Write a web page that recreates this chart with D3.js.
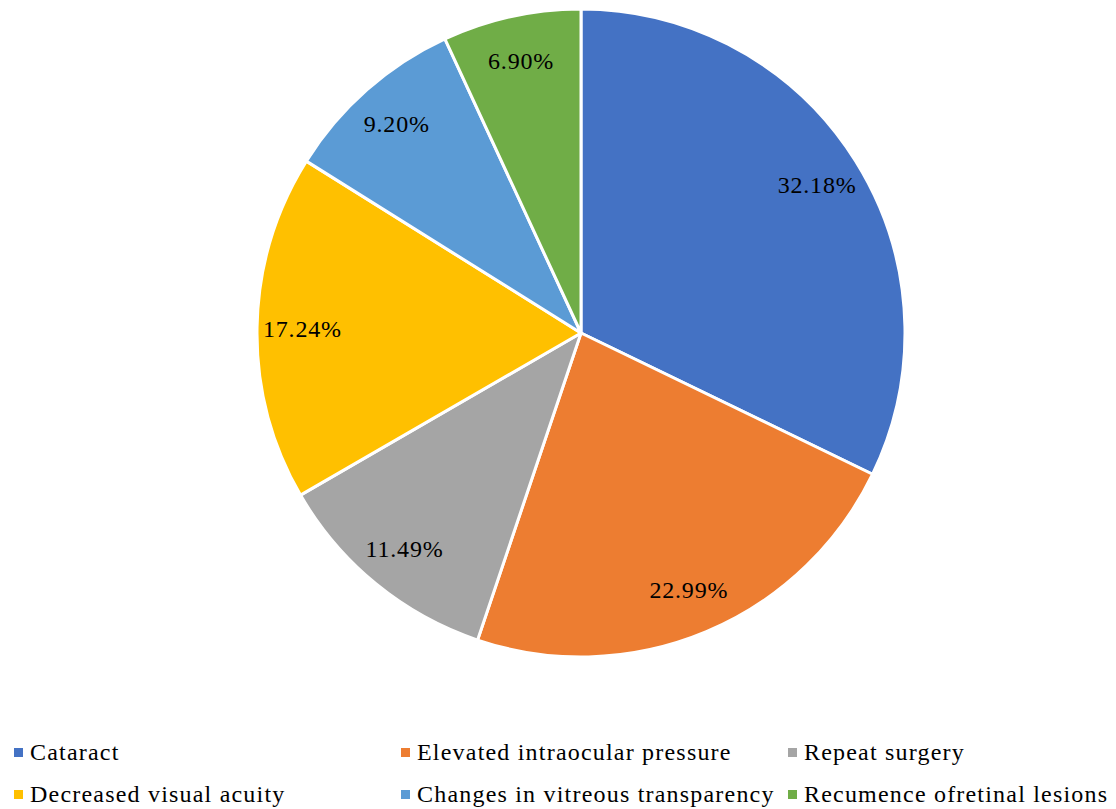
<!DOCTYPE html>
<html>
<head>
<meta charset="utf-8">
<script src="https://cdn.jsdelivr.net/npm/d3@7"></script>
<style>
  body { margin: 0; background: #fff; }
</style>
</head>
<body>
<div id="chart"></div>
<script>
const categories = ['Cataract', 'Elevated intraocular pressure', 'Repeat surgery',
    'Decreased visual acuity', 'Changes in vitreous transparency', 'Recumence ofretinal lesions'];
const values = [32.18, 22.99, 11.49, 17.24, 9.20, 6.90];
const labels = ['32.18%', '22.99%', '11.49%', '17.24%', '9.20%', '6.90%'];
const colors = ['#4472C4', '#ED7D31', '#A5A5A5', '#FFC000', '#5B9BD5', '#70AD47'];

const width = 1116, height = 809;
const cx = 581, cy = 333, radius = 324;
const serif = "Times New Roman, Liberation Serif, Tinos, DejaVu Serif, Noto Serif, FreeSerif, serif";

const svg = d3.select("#chart").append("svg")
    .attr("width", width)
    .attr("height", height);

const color = d3.scaleOrdinal().domain(categories).range(colors);

const pie = d3.pie().sort(null).value(d => d.value);
const arcs = pie(categories.map((c, i) => ({name: c, value: values[i], label: labels[i]})));

const arc = d3.arc().innerRadius(0).outerRadius(radius);
const labelArc = d3.arc().innerRadius(radius * 0.86).outerRadius(radius * 0.86);

const g = svg.append("g").attr("transform", "translate(" + cx + "," + cy + ")");

g.selectAll("path")
    .data(arcs)
    .enter().append("path")
    .attr("d", arc)
    .attr("fill", d => color(d.data.name))
    .attr("stroke", "#fff")
    .attr("stroke-width", 3)
    .attr("stroke-linejoin", "round");

g.selectAll(".lbl")
    .data(arcs)
    .enter().append("text")
    .attr("class", "lbl")
    .attr("transform", d => "translate(" + labelArc.centroid(d) + ")")
    .attr("text-anchor", "middle")
    .attr("dy", "0.35em")
    .style("font-family", serif)
    .attr("font-size", 24)
    .attr("letter-spacing", 0.8)
    .attr("fill", "#000")
    .text(d => d.data.label);

// Legend, three columns
const legendX = [14, 401, 788];
const legendY = [752, 794];
const legend = svg.selectAll(".legend")
    .data(categories)
    .enter().append("g")
    .attr("class", "legend")
    .attr("transform", (d, i) => "translate(" + legendX[i % 3] + "," + legendY[Math.floor(i / 3)] + ")");

legend.append("rect")
    .attr("x", 0)
    .attr("y", -4)
    .attr("width", 9)
    .attr("height", 9)
    .attr("fill", d => color(d));

legend.append("text")
    .attr("x", 16)
    .attr("y", 0)
    .attr("dy", "0.35em")
    .style("font-family", serif)
    .attr("font-size", 24)
    .attr("letter-spacing", 1.2)
    .attr("fill", "#000")
    .text(d => d);
</script>
</body>
</html>
